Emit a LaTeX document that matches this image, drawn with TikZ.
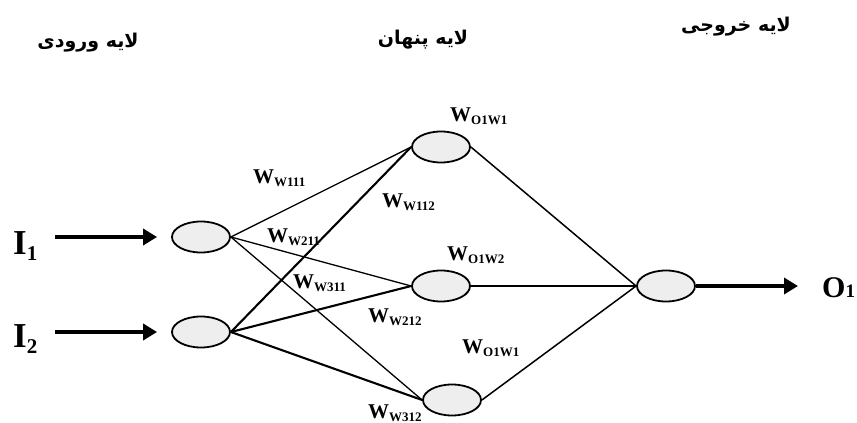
\documentclass[tikz,border=0pt]{standalone}
\usepackage{fontspec}
\setmainfont{Liberation Serif}
\newfontfamily\fa[Script=Arabic]{DejaVu Sans}
\TeXXeTstate=1
\usetikzlibrary{shapes.geometric,arrows.meta}
\newcommand{\wlab}[1]{\fontsize{21}{21}\selectfont\bfseries W\raisebox{-3pt}{\fontsize{13}{13}\selectfont #1}}
\begin{document}
\begin{tikzpicture}[x=1pt,y=-1pt,
  neuron/.style={ellipse,draw,line width=1.8pt,fill=gray!13,minimum width=58pt,minimum height=31pt,inner sep=0pt},
  thinedge/.style={line width=1.3pt},
  thickedge/.style={line width=2.1pt},
  outedge/.style={line width=1.5pt},
  arr/.style={line width=3.8pt,-{Triangle[length=14pt,width=16pt]}},
  wl/.style={anchor=base west,inner sep=0pt},
  hdr/.style={inner sep=0pt,font=\fa\bfseries\fontsize{19}{19}\selectfont}]
\useasboundingbox (0,0) rectangle (857,423);
% headers
\node[hdr] (h1) at (88,43) {\beginR لایه ورودی\endR};
\node[hdr] (h2) at (423,40) {\beginR لایه پنهان\endR};
\node[hdr] (h3) at (736,27) {\beginR لایه خروجی\endR};
% neurons
\node[neuron] (n1) at (201,237) {};
\node[neuron] (n2) at (201,332) {};
\node[neuron] (m1) at (441,147) {};
\node[neuron] (m2) at (441,286) {};
\node[neuron] (m3) at (452,400) {};
\node[neuron] (o) at (666,286) {};
% input / output labels
\node[wl] (i1) at (13,254) {\fontsize{35}{35}\selectfont\bfseries I\raisebox{-6pt}{\fontsize{21}{21}\selectfont 1}};
\node[wl] (i2) at (13,347) {\fontsize{35}{35}\selectfont\bfseries I\raisebox{-6pt}{\fontsize{21}{21}\selectfont 2}};
\node[wl] (o1) at (822,297) {\fontsize{30}{30}\selectfont\bfseries O{\fontsize{19}{19}\selectfont 1}};
\coordinate (a1) at (55,237);
\coordinate (a2) at (55,332);
\coordinate (ae) at (798,286);
\draw[arr,shorten >=14pt] (a1) -- (n1.west);
\draw[arr,shorten >=14pt] (a2) -- (n2.west);
\draw[arr] (o.east) -- (ae);
% edges
\draw[thinedge] (n1.east) -- (m1.west);
\draw[thinedge] (n1.east) -- (m2.west);
\draw[thinedge] (n1.east) -- (m3.west);
\draw[thickedge] (n2.east) -- (m1.west);
\draw[thickedge] (n2.east) -- (m2.west);
\draw[thickedge] (n2.east) -- (m3.west);
\draw[outedge] (m1.east) -- (o.west);
\draw[outedge] (m2.east) -- (o.west);
\draw[outedge] (m3.east) -- (o.west);
% weight labels
\node[wl] (w111) at (253,183) {\wlab{W111}};
\node[wl] (w112) at (382,207) {\wlab{W112}};
\node[wl] (w211) at (267,242) {\wlab{W211}};
\node[wl] (w311) at (293,288) {\wlab{W311}};
\node[wl] (w212) at (368,322) {\wlab{W212}};
\node[wl] (w312) at (368,418) {\wlab{W312}};
\node[wl] (wo1) at (450,121) {\wlab{O1W1}};
\node[wl] (wo2) at (447,260) {\wlab{O1W2}};
\node[wl] (wo3) at (462,353) {\wlab{O1W1}};
\end{tikzpicture}
\end{document}
